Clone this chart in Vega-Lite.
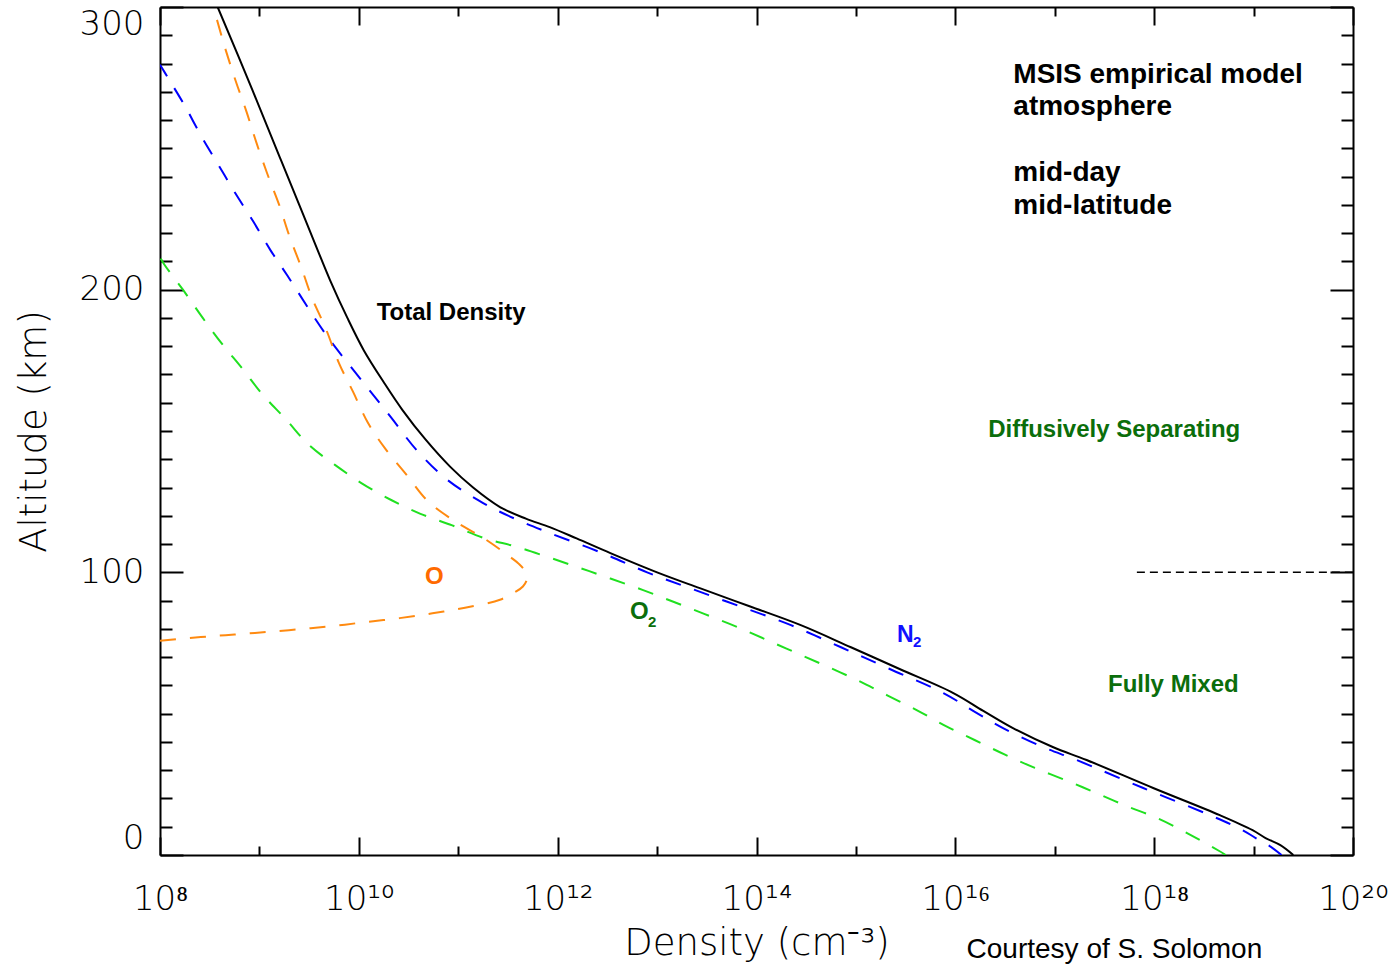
{
  "$schema": "https://vega.github.io/schema/vega-lite/v6.json",
  "width": 1193,
  "height": 848,
  "autosize": {"type": "none"},
  "padding": {"left": 160, "top": 7, "right": 43, "bottom": 111},
  "background": "white",
  "title": {"text": "Courtesy of S. Solomon", "orient": "bottom", "anchor": "end", "dx": -126, "offset": -25, "font": "Liberation Sans", "fontSize": 28, "fontWeight": "normal", "color": "black", "baseline": "top"},
  "datasets": {
    "profiles": [
      {"species": "Total", "alt": 0, "n": 2.51e19},
      {"species": "Total", "alt": 3.5, "n": 1.86e19},
      {"species": "Total", "alt": 6, "n": 1.32e19},
      {"species": "Total", "alt": 8.8, "n": 9.77e18},
      {"species": "Total", "alt": 14.1, "n": 4.57e18},
      {"species": "Total", "alt": 23.7, "n": 9.77e17},
      {"species": "Total", "alt": 33.6, "n": 2.09e17},
      {"species": "Total", "alt": 38.2, "n": 9.55e16},
      {"species": "Total", "alt": 44.9, "n": 3.80e16},
      {"species": "Total", "alt": 51, "n": 1.91e16},
      {"species": "Total", "alt": 57.3, "n": 9.55e15},
      {"species": "Total", "alt": 65.8, "n": 2.75e15},
      {"species": "Total", "alt": 73.5, "n": 8.91e14},
      {"species": "Total", "alt": 81.4, "n": 2.75e14},
      {"species": "Total", "alt": 88, "n": 8.51e13},
      {"species": "Total", "alt": 94.4, "n": 2.69e13},
      {"species": "Total", "alt": 100, "n": 1.0e13},
      {"species": "Total", "alt": 106.8, "n": 3.39e12},
      {"species": "Total", "alt": 112, "n": 1.55e12},
      {"species": "Total", "alt": 116, "n": 8.32e11},
      {"species": "Total", "alt": 119, "n": 4.79e11},
      {"species": "Total", "alt": 123.1, "n": 2.63e11},
      {"species": "Total", "alt": 130, "n": 1.41e11},
      {"species": "Total", "alt": 137.3, "n": 8.32e10},
      {"species": "Total", "alt": 147, "n": 4.68e10},
      {"species": "Total", "alt": 157.4, "n": 2.75e10},
      {"species": "Total", "alt": 167, "n": 1.80e10},
      {"species": "Total", "alt": 178.6, "n": 1.12e10},
      {"species": "Total", "alt": 190, "n": 7.67e9},
      {"species": "Total", "alt": 203.4, "n": 5.13e9},
      {"species": "Total", "alt": 214, "n": 3.85e9},
      {"species": "Total", "alt": 227.1, "n": 2.72e9},
      {"species": "Total", "alt": 246.9, "n": 1.60e9},
      {"species": "Total", "alt": 270.6, "n": 8.51e8},
      {"species": "Total", "alt": 300, "n": 3.80e8},

      {"species": "N2", "alt": 0, "n": 1.91e19},
      {"species": "N2", "alt": 3.5, "n": 1.41e19},
      {"species": "N2", "alt": 6, "n": 1.05e19},
      {"species": "N2", "alt": 8.8, "n": 7.76e18},
      {"species": "N2", "alt": 14.1, "n": 3.63e18},
      {"species": "N2", "alt": 23.7, "n": 7.76e17},
      {"species": "N2", "alt": 33.6, "n": 1.66e17},
      {"species": "N2", "alt": 38.2, "n": 7.59e16},
      {"species": "N2", "alt": 44.9, "n": 3.02e16},
      {"species": "N2", "alt": 51, "n": 1.51e16},
      {"species": "N2", "alt": 57.3, "n": 7.59e15},
      {"species": "N2", "alt": 65.8, "n": 2.19e15},
      {"species": "N2", "alt": 73.5, "n": 7.08e14},
      {"species": "N2", "alt": 81.4, "n": 2.19e14},
      {"species": "N2", "alt": 88, "n": 6.76e13},
      {"species": "N2", "alt": 94.4, "n": 2.14e13},
      {"species": "N2", "alt": 100, "n": 7.94e12},
      {"species": "N2", "alt": 106.8, "n": 2.82e12},
      {"species": "N2", "alt": 113.9, "n": 8.32e11},
      {"species": "N2", "alt": 118.5, "n": 3.98e11},
      {"species": "N2", "alt": 124.5, "n": 1.78e11},
      {"species": "N2", "alt": 133, "n": 7.59e10},
      {"species": "N2", "alt": 143.3, "n": 3.80e10},
      {"species": "N2", "alt": 155, "n": 2.09e10},
      {"species": "N2", "alt": 167.3, "n": 1.10e10},
      {"species": "N2", "alt": 184.6, "n": 4.57e9},
      {"species": "N2", "alt": 205, "n": 1.91e9},
      {"species": "N2", "alt": 214, "n": 1.29e9},
      {"species": "N2", "alt": 224, "n": 8.71e8},
      {"species": "N2", "alt": 234, "n": 5.75e8},
      {"species": "N2", "alt": 244, "n": 3.89e8},
      {"species": "N2", "alt": 254, "n": 2.63e8},
      {"species": "N2", "alt": 265, "n": 1.78e8},
      {"species": "N2", "alt": 275, "n": 1.20e8},
      {"species": "N2", "alt": 279.6, "n": 1.0e8},

      {"species": "O2", "alt": 0, "n": 5.25e18},
      {"species": "O2", "alt": 1.5, "n": 4.47e18},
      {"species": "O2", "alt": 7.6, "n": 2.19e18},
      {"species": "O2", "alt": 12.9, "n": 1.10e18},
      {"species": "O2", "alt": 17.2, "n": 5.37e17},
      {"species": "O2", "alt": 21.9, "n": 2.63e17},
      {"species": "O2", "alt": 26.3, "n": 1.32e17},
      {"species": "O2", "alt": 30.8, "n": 6.31e16},
      {"species": "O2", "alt": 35.5, "n": 3.16e16},
      {"species": "O2", "alt": 40.6, "n": 1.58e16},
      {"species": "O2", "alt": 45.5, "n": 8.13e15},
      {"species": "O2", "alt": 51.1, "n": 4.17e15},
      {"species": "O2", "alt": 56.4, "n": 2.09e15},
      {"species": "O2", "alt": 61.7, "n": 1.05e15},
      {"species": "O2", "alt": 66.7, "n": 5.13e14},
      {"species": "O2", "alt": 71.5, "n": 2.51e14},
      {"species": "O2", "alt": 76.3, "n": 1.23e14},
      {"species": "O2", "alt": 80.9, "n": 6.17e13},
      {"species": "O2", "alt": 85.2, "n": 3.02e13},
      {"species": "O2", "alt": 89.5, "n": 1.48e13},
      {"species": "O2", "alt": 93.7, "n": 7.24e12},
      {"species": "O2", "alt": 97.8, "n": 3.39e12},
      {"species": "O2", "alt": 101.6, "n": 1.66e12},
      {"species": "O2", "alt": 105.3, "n": 8.13e11},
      {"species": "O2", "alt": 109.1, "n": 3.80e11},
      {"species": "O2", "alt": 112, "n": 1.86e11},
      {"species": "O2", "alt": 116.6, "n": 8.71e10},
      {"species": "O2", "alt": 120.7, "n": 4.17e10},
      {"species": "O2", "alt": 125.5, "n": 2.14e10},
      {"species": "O2", "alt": 131.5, "n": 1.07e10},
      {"species": "O2", "alt": 138, "n": 5.75e9},
      {"species": "O2", "alt": 145, "n": 3.16e9},
      {"species": "O2", "alt": 154, "n": 1.86e9},
      {"species": "O2", "alt": 163, "n": 1.07e9},
      {"species": "O2", "alt": 172, "n": 6.76e8},
      {"species": "O2", "alt": 181, "n": 4.17e8},
      {"species": "O2", "alt": 190, "n": 2.69e8},
      {"species": "O2", "alt": 200, "n": 1.70e8},
      {"species": "O2", "alt": 209, "n": 1.10e8},
      {"species": "O2", "alt": 211.5, "n": 1.0e8},

      {"species": "O", "alt": 75.8, "n": 1.0e8},
      {"species": "O", "alt": 77.1, "n": 2.57e8},
      {"species": "O", "alt": 78.0, "n": 5.62e8},
      {"species": "O", "alt": 78.9, "n": 1.20e9},
      {"species": "O", "alt": 79.9, "n": 2.57e9},
      {"species": "O", "alt": 81.0, "n": 5.50e9},
      {"species": "O", "alt": 82.4, "n": 1.17e10},
      {"species": "O", "alt": 83.8, "n": 2.57e10},
      {"species": "O", "alt": 85.5, "n": 5.50e10},
      {"species": "O", "alt": 87.5, "n": 1.17e11},
      {"species": "O", "alt": 90.3, "n": 2.63e11},
      {"species": "O", "alt": 93.0, "n": 3.72e11},
      {"species": "O", "alt": 95.0, "n": 4.47e11},
      {"species": "O", "alt": 97.5, "n": 4.90e11},
      {"species": "O", "alt": 100.0, "n": 4.79e11},
      {"species": "O", "alt": 103.0, "n": 4.07e11},
      {"species": "O", "alt": 105.5, "n": 3.31e11},
      {"species": "O", "alt": 112, "n": 1.82e11},
      {"species": "O", "alt": 118, "n": 9.33e10},
      {"species": "O", "alt": 125, "n": 5.01e10},
      {"species": "O", "alt": 134.5, "n": 3.02e10},
      {"species": "O", "alt": 144, "n": 1.82e10},
      {"species": "O", "alt": 153, "n": 1.23e10},
      {"species": "O", "alt": 164, "n": 8.71e9},
      {"species": "O", "alt": 174, "n": 6.31e9},
      {"species": "O", "alt": 186, "n": 4.68e9},
      {"species": "O", "alt": 197, "n": 3.39e9},
      {"species": "O", "alt": 208, "n": 2.63e9},
      {"species": "O", "alt": 219, "n": 2.00e9},
      {"species": "O", "alt": 230, "n": 1.58e9},
      {"species": "O", "alt": 241, "n": 1.20e9},
      {"species": "O", "alt": 252, "n": 9.33e8},
      {"species": "O", "alt": 263, "n": 7.41e8},
      {"species": "O", "alt": 274, "n": 5.75e8},
      {"species": "O", "alt": 286, "n": 4.47e8},
      {"species": "O", "alt": 297, "n": 3.63e8},
      {"species": "O", "alt": 300, "n": 3.39e8}
    ],
    "boundary": [
      {"n": 6.7e17, "n2": 1e20, "alt": 100}
    ],
    "labels": [
      {"kind": "header", "text": "MSIS empirical model", "n": 3.83e16, "alt": 273.0},
      {"kind": "header", "text": "atmosphere", "n": 3.83e16, "alt": 261.8},
      {"kind": "header", "text": "mid-day", "n": 3.83e16, "alt": 238.3},
      {"kind": "header", "text": "mid-latitude", "n": 3.83e16, "alt": 226.6},
      {"kind": "label", "text": "Total Density", "n": 1.51e10, "alt": 191.6},
      {"kind": "regime", "text": "Diffusively Separating", "n": 2.14e16, "alt": 150.2},
      {"kind": "regime", "text": "Fully Mixed", "n": 3.43e17, "alt": 60.1},
      {"kind": "O", "text": "O", "n": 4.62e10, "alt": 98.4},
      {"kind": "O2", "text": "O", "n": 5.33e12, "alt": 86.1},
      {"kind": "O2sub", "text": "2", "n": 8.1e12, "alt": 82.6},
      {"kind": "N2", "text": "N", "n": 2.59e15, "alt": 77.9},
      {"kind": "N2sub", "text": "2", "n": 3.75e15, "alt": 75.3}
    ]
  },
  "layer": [
    {
      "data": {"name": "profiles"},
      "transform": [{"filter": "datum.species === 'Total'"}],
      "mark": {"type": "line", "color": "black", "strokeWidth": 2, "clip": true, "interpolate": "catmull-rom"},
      "encoding": {
        "x": {"field": "n", "type": "quantitative", "scale": {"type": "log", "domain": [1e8, 1e20], "nice": false},
          "axis": {"orient": "bottom", "values": [1e8, 1e10, 1e12, 1e14, 1e16, 1e18, 1e20], "tickSize": -18, "domain": true,
            "labelExpr": "datum.value < 5e8 ? '10⁸' : datum.value < 5e10 ? '10¹⁰' : datum.value < 5e12 ? '10¹²' : datum.value < 5e14 ? '10¹⁴' : datum.value < 5e16 ? '10¹⁶' : datum.value < 5e18 ? '10¹⁸' : '10²⁰'",
            "labelFont": "DejaVu Sans", "labelFontSize": 34, "labelFontWeight": 200, "labelPadding": 45, "labelFlush": false, "labelOverlap": false, "labelBound": false,
            "title": "Density (cm⁻³)", "titleFont": "DejaVu Sans", "titleFontSize": 37, "titleFontWeight": 200, "titlePadding": 9}},
        "y": {"field": "alt", "type": "quantitative", "scale": {"domain": [0, 300], "nice": false, "zero": false},
          "axis": {"orient": "left", "values": [0, 100, 200, 300], "tickSize": -23, "domain": true,
            "labelFont": "DejaVu Sans", "labelFontSize": 34, "labelFontWeight": 200, "labelPadding": 39, "labelFlush": true, "labelOverlap": false,
            "title": "Altitude (km)", "titleFont": "DejaVu Sans", "titleFontSize": 37, "titleFontWeight": 200, "titlePadding": 26}},
        "order": {"field": "alt", "type": "quantitative"}
      }
    },
    {
      "data": {"name": "profiles"},
      "transform": [{"filter": "datum.species === 'N2'"}],
      "mark": {"type": "line", "color": "#0000ff", "strokeWidth": 2, "strokeDash": [16, 14], "clip": true, "interpolate": "catmull-rom"},
      "encoding": {
        "x": {"field": "n", "type": "quantitative", "scale": {"type": "log", "domain": [1e8, 1e20], "nice": false},
          "axis": {"orient": "bottom", "values": [1e9, 1e11, 1e13, 1e15, 1e17, 1e19], "tickSize": -9, "domain": false, "labels": false, "title": null}},
        "y": {"field": "alt", "type": "quantitative", "scale": {"domain": [0, 300], "nice": false, "zero": false},
          "axis": {"orient": "left", "values": [10, 20, 30, 40, 50, 60, 70, 80, 90, 110, 120, 130, 140, 150, 160, 170, 180, 190, 210, 220, 230, 240, 250, 260, 270, 280, 290], "tickSize": -12, "domain": false, "labels": false, "title": null}},
        "order": {"field": "alt", "type": "quantitative"}
      }
    },
    {
      "data": {"name": "profiles"},
      "transform": [{"filter": "datum.species === 'O2'"}],
      "mark": {"type": "line", "color": "#20e020", "strokeWidth": 2, "strokeDash": [16, 14], "clip": true, "interpolate": "catmull-rom"},
      "encoding": {
        "x": {"field": "n", "type": "quantitative", "scale": {"type": "log", "domain": [1e8, 1e20], "nice": false},
          "axis": {"orient": "top", "values": [1e8, 1e10, 1e12, 1e14, 1e16, 1e18, 1e20], "tickSize": -18, "domain": true, "labels": false, "title": null}},
        "y": {"field": "alt", "type": "quantitative", "scale": {"domain": [0, 300], "nice": false, "zero": false},
          "axis": {"orient": "right", "values": [0, 100, 200, 300], "tickSize": -23, "domain": true, "labels": false, "title": null}},
        "order": {"field": "alt", "type": "quantitative"}
      }
    },
    {
      "data": {"name": "profiles"},
      "transform": [{"filter": "datum.species === 'O'"}],
      "mark": {"type": "line", "color": "#ff8a10", "strokeWidth": 2, "strokeDash": [16, 14], "clip": true, "interpolate": "catmull-rom"},
      "encoding": {
        "x": {"field": "n", "type": "quantitative", "scale": {"type": "log", "domain": [1e8, 1e20], "nice": false},
          "axis": {"orient": "top", "values": [1e9, 1e11, 1e13, 1e15, 1e17, 1e19], "tickSize": -9, "domain": false, "labels": false, "title": null}},
        "y": {"field": "alt", "type": "quantitative", "scale": {"domain": [0, 300], "nice": false, "zero": false},
          "axis": {"orient": "right", "values": [10, 20, 30, 40, 50, 60, 70, 80, 90, 110, 120, 130, 140, 150, 160, 170, 180, 190, 210, 220, 230, 240, 250, 260, 270, 280, 290], "tickSize": -12, "domain": false, "labels": false, "title": null}},
        "order": {"field": "alt", "type": "quantitative"}
      }
    },
    {
      "data": {"name": "boundary"},
      "mark": {"type": "rule", "color": "black", "strokeWidth": 1.5, "strokeDash": [8, 5]},
      "encoding": {
        "x": {"field": "n", "type": "quantitative", "scale": {"type": "log", "domain": [1e8, 1e20], "nice": false}, "axis": null},
        "x2": {"field": "n2"},
        "y": {"field": "alt", "type": "quantitative", "scale": {"domain": [0, 300], "nice": false, "zero": false}, "axis": null}
      }
    },
    {
      "data": {"name": "labels"},
      "transform": [{"filter": "datum.kind === 'header'"}],
      "mark": {"type": "text", "align": "left", "baseline": "alphabetic", "font": "Liberation Sans", "fontSize": 28, "fontWeight": "bold", "color": "black"},
      "encoding": {
        "x": {"field": "n", "type": "quantitative", "scale": {"type": "log", "domain": [1e8, 1e20], "nice": false}, "axis": null},
        "y": {"field": "alt", "type": "quantitative", "scale": {"domain": [0, 300], "nice": false, "zero": false}, "axis": null},
        "text": {"field": "text"}
      }
    },
    {
      "data": {"name": "labels"},
      "transform": [{"filter": "datum.kind === 'label'"}],
      "mark": {"type": "text", "align": "left", "baseline": "middle", "font": "Liberation Sans", "fontSize": 24, "fontWeight": "bold", "color": "black"},
      "encoding": {
        "x": {"field": "n", "type": "quantitative", "scale": {"type": "log", "domain": [1e8, 1e20], "nice": false}, "axis": null},
        "y": {"field": "alt", "type": "quantitative", "scale": {"domain": [0, 300], "nice": false, "zero": false}, "axis": null},
        "text": {"field": "text"}
      }
    },
    {
      "data": {"name": "labels"},
      "transform": [{"filter": "datum.kind === 'regime' || datum.kind === 'O2'"}],
      "mark": {"type": "text", "align": "left", "baseline": "middle", "font": "Liberation Sans", "fontSize": 24, "fontWeight": "bold", "color": "#0b6e0b"},
      "encoding": {
        "x": {"field": "n", "type": "quantitative", "scale": {"type": "log", "domain": [1e8, 1e20], "nice": false}, "axis": null},
        "y": {"field": "alt", "type": "quantitative", "scale": {"domain": [0, 300], "nice": false, "zero": false}, "axis": null},
        "text": {"field": "text"}
      }
    },
    {
      "data": {"name": "labels"},
      "transform": [{"filter": "datum.kind === 'O2sub'"}],
      "mark": {"type": "text", "align": "left", "baseline": "middle", "font": "Liberation Sans", "fontSize": 15, "fontWeight": "bold", "color": "#0b6e0b"},
      "encoding": {
        "x": {"field": "n", "type": "quantitative", "scale": {"type": "log", "domain": [1e8, 1e20], "nice": false}, "axis": null},
        "y": {"field": "alt", "type": "quantitative", "scale": {"domain": [0, 300], "nice": false, "zero": false}, "axis": null},
        "text": {"field": "text"}
      }
    },
    {
      "data": {"name": "labels"},
      "transform": [{"filter": "datum.kind === 'O'"}],
      "mark": {"type": "text", "align": "left", "baseline": "middle", "font": "Liberation Sans", "fontSize": 24, "fontWeight": "bold", "color": "#ff6a00"},
      "encoding": {
        "x": {"field": "n", "type": "quantitative", "scale": {"type": "log", "domain": [1e8, 1e20], "nice": false}, "axis": null},
        "y": {"field": "alt", "type": "quantitative", "scale": {"domain": [0, 300], "nice": false, "zero": false}, "axis": null},
        "text": {"field": "text"}
      }
    },
    {
      "data": {"name": "labels"},
      "transform": [{"filter": "datum.kind === 'N2'"}],
      "mark": {"type": "text", "align": "left", "baseline": "middle", "font": "Liberation Sans", "fontSize": 23, "fontWeight": "bold", "color": "#1010ff"},
      "encoding": {
        "x": {"field": "n", "type": "quantitative", "scale": {"type": "log", "domain": [1e8, 1e20], "nice": false}, "axis": null},
        "y": {"field": "alt", "type": "quantitative", "scale": {"domain": [0, 300], "nice": false, "zero": false}, "axis": null},
        "text": {"field": "text"}
      }
    },
    {
      "data": {"name": "labels"},
      "transform": [{"filter": "datum.kind === 'N2sub'"}],
      "mark": {"type": "text", "align": "left", "baseline": "middle", "font": "Liberation Sans", "fontSize": 15, "fontWeight": "bold", "color": "#1010ff"},
      "encoding": {
        "x": {"field": "n", "type": "quantitative", "scale": {"type": "log", "domain": [1e8, 1e20], "nice": false}, "axis": null},
        "y": {"field": "alt", "type": "quantitative", "scale": {"domain": [0, 300], "nice": false, "zero": false}, "axis": null},
        "text": {"field": "text"}
      }
    }
  ],
  "resolve": {"axis": {"x": "independent", "y": "independent"}},
  "config": {
    "view": {"stroke": null},
    "axis": {"grid": false, "tickColor": "black", "tickWidth": 2, "domainColor": "black", "domainWidth": 2, "labelColor": "black", "titleColor": "black"}
  }
}
